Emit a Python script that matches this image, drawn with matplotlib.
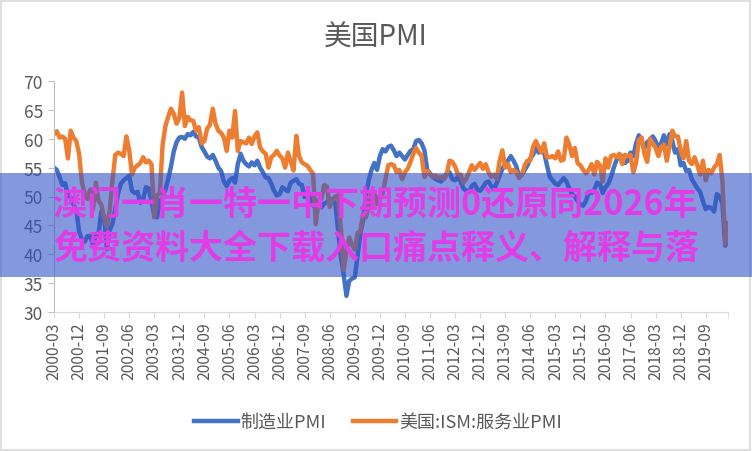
import numpy as np
import pandas as pd
import matplotlib
matplotlib.use("Agg")
import matplotlib.pyplot as plt
from matplotlib.patches import Rectangle

plt.rcParams["font.family"] = ["Noto Sans CJK SC", "DejaVu Sans"]

# monthly data, 2000-03 .. 2020-05
months = pd.period_range("2000-03", "2020-05", freq="M").strftime("%Y-%m").tolist()

mfg_pmi = [
    55.0, 54.6, 53.4, 52.0, 52.3, 50.2, 49.8, 48.6, 47.7, 44.0,              # 2000
    42.6, 42.2, 43.1, 43.2, 41.6, 43.2, 43.6, 47.4, 46.5, 40.9, 44.2, 45.3,  # 2001
    47.8, 50.5, 52.2, 52.8, 53.2, 53.6, 51.0, 50.6, 50.8, 48.9, 49.5, 51.6,  # 2002
    51.4, 49.2, 46.8, 46.4, 49.2, 49.8, 51.2, 53.0, 55.2, 57.8, 59.4, 60.2,  # 2003
    60.3, 60.0, 60.8, 60.6, 61.2, 60.4, 60.2, 58.6, 57.8, 56.9, 56.6, 57.2,  # 2004
    56.2, 55.0, 54.4, 52.6, 51.8, 52.8, 53.2, 52.4, 55.6, 57.4, 56.2, 55.6,  # 2005
    55.2, 55.9, 55.4, 56.2, 55.0, 54.2, 53.3, 53.2, 52.2, 51.0, 50.2, 50.4,  # 2006
    51.6, 51.2, 50.9, 52.4, 52.7, 53.0, 52.2, 52.0, 49.9, 50.6, 49.6, 48.4,  # 2007
    49.3, 48.6, 48.1, 48.8, 49.0, 49.6, 49.2, 48.9, 44.2, 39.5, 36.5, 32.8,  # 2008
    35.4, 35.8, 36.0, 39.8, 43.5, 46.0, 50.2, 52.8, 54.6, 55.8, 54.6, 57.0,  # 2009
    58.2, 57.8, 58.6, 58.8, 58.0, 57.0, 57.6, 57.0, 56.4, 57.2, 57.9, 58.2,  # 2010
    59.6, 59.8, 59.2, 58.0, 54.6, 54.0, 53.4, 53.0, 52.8, 52.6, 53.2, 54.0,  # 2011
    54.2, 53.0, 52.8, 53.4, 52.6, 51.4, 51.0, 50.8, 51.8, 52.2, 51.2, 51.0,  # 2012
    51.6, 52.4, 52.6, 51.8, 51.2, 52.4, 53.6, 54.8, 55.6, 56.2, 57.0, 56.2,  # 2013
    55.2, 53.4, 53.8, 54.6, 55.4, 56.6, 57.2, 58.6, 57.6, 57.9, 57.6, 55.4,  # 2014
    53.4, 52.8, 52.2, 52.0, 52.6, 53.2, 52.6, 51.4, 50.4, 50.0, 49.2, 48.6,  # 2015
    48.4, 49.2, 50.8, 50.6, 51.2, 52.4, 52.2, 50.6, 51.6, 52.2, 53.4, 55.0,  # 2016
    56.4, 57.2, 57.0, 55.8, 56.2, 57.6, 57.0, 59.2, 60.6, 59.4, 58.4, 59.4,  # 2017
    59.8, 60.4, 59.6, 58.4, 59.2, 60.6, 59.0, 60.8, 59.6, 57.6, 58.2, 55.4,  # 2018
    55.8, 54.4, 54.6, 53.0, 52.2, 51.4, 50.8, 49.2, 47.8, 48.2, 48.0, 47.4,  # 2019
    50.4, 50.0, 48.8, 41.5, 43.2,                                            # 2020
]

svc_pmi = [
    60.8, 61.3, 60.2, 60.4, 60.0, 56.6, 61.4, 60.2, 59.6, 57.4,              # 2000
    52.6, 50.4, 49.6, 51.2, 47.8, 52.4, 49.2, 48.6, 46.2, 44.8, 47.6, 52.8,  # 2001
    57.2, 57.6, 57.4, 57.0, 60.4, 58.0, 53.8, 55.0, 55.4, 55.8, 56.8, 55.9,  # 2002
    56.2, 55.6, 46.4, 50.2, 50.6, 59.0, 62.2, 63.8, 65.2, 64.3, 62.6, 63.6,  # 2003
    68.0, 62.2, 63.8, 63.2, 63.1, 61.4, 62.0, 59.2, 59.6, 61.8, 62.4, 65.2,  # 2004
    62.6, 61.4, 61.0, 60.2, 57.9, 61.4, 60.2, 64.8, 57.9, 59.6, 59.4, 59.2,  # 2005
    60.2, 59.1, 60.4, 61.1, 58.5, 57.8, 57.4, 55.0, 56.8, 57.2, 57.9, 57.1,  # 2006
    56.6, 55.0, 57.6, 56.0, 54.5, 60.5, 57.0, 55.9, 55.6, 55.3, 54.6, 54.0,  # 2007
    45.2, 49.3, 49.6, 52.0, 51.7, 48.2, 49.5, 50.0, 50.2, 44.4, 37.3, 40.6,  # 2008
    42.9, 41.6, 40.8, 43.7, 44.0, 47.0, 46.4, 48.4, 50.9, 50.6, 48.7, 50.1,  # 2009
    50.5, 53.0, 55.4, 55.6, 55.4, 54.2, 54.6, 53.0, 54.2, 54.8, 56.0, 57.4,  # 2010
    58.4, 57.6, 57.0, 53.4, 54.4, 53.8, 53.4, 53.6, 53.2, 53.4, 53.0, 53.8,  # 2011
    56.2, 56.0, 55.2, 53.8, 53.8, 52.4, 53.0, 54.2, 55.4, 54.6, 55.2, 55.8,  # 2012
    54.8, 55.6, 54.2, 53.4, 53.8, 53.0, 56.2, 58.0, 55.0, 55.6, 54.2, 54.6,  # 2013
    54.2, 53.2, 53.8, 55.4, 56.2, 56.2, 58.6, 59.6, 58.6, 57.6, 59.2, 56.8,  # 2014
    56.8, 57.0, 56.6, 57.8, 56.2, 56.4, 60.2, 59.0, 57.0, 58.4, 55.8, 55.4,  # 2015
    54.6, 54.0, 54.6, 55.6, 53.8, 56.0, 55.4, 52.6, 56.6, 55.0, 57.0, 57.2,  # 2016
    56.8, 57.4, 55.6, 57.2, 57.0, 57.2, 54.2, 55.8, 59.8, 60.2, 57.4, 56.0,  # 2017
    60.0, 59.2, 58.4, 57.0, 58.6, 59.0, 56.2, 58.6, 61.4, 60.4, 60.4, 58.0,  # 2018
    56.6, 59.6, 56.2, 55.6, 56.8, 55.4, 53.8, 56.2, 52.8, 54.6, 54.0, 55.0,  # 2019
    55.6, 57.2, 52.6, 41.8, 45.4,                                            # 2020
]

series_names = ["制造业PMI", "美国:ISM:服务业PMI"]
title = "美国PMI"
banner_lines = ["澳门一肖一特一中下期预测0还原同2026年", "免费资料大全下载入口痛点释义、解释与落"]

W, H = 752, 452
fig = plt.figure(figsize=(W / 100, H / 100), dpi=100)
ax = fig.add_axes([54 / W, 1 - 313 / H, (728 - 54) / W, (313 - 82) / H])

x = np.arange(len(months))
ax.plot(x, mfg_pmi, color="#4472C4", lw=3.2, label=series_names[0], solid_joinstyle="round")
ax.plot(x, svc_pmi, color="#ED7D31", lw=3.2, label=series_names[1], solid_joinstyle="round")

ax.set_xlim(0, len(months) - 1)
ax.set_ylim(30, 70)
ax.set_yticks(np.arange(30, 71, 5))
tick_pos = np.arange(0, len(months), 9)
ax.set_xticks(tick_pos)
ax.set_xticklabels([months[i] for i in tick_pos], rotation=90)
ax.set_xticks([len(months) - 1], minor=True)

for s in ["top", "right"]:
    ax.spines[s].set_visible(False)
ax.spines["left"].set_color("#bfbfbf")
ax.spines["bottom"].set_color("#d9d9d9")
ax.tick_params(axis="y", labelsize=12.5, colors="#595959", length=4, color="#bfbfbf", pad=4)
ax.tick_params(axis="x", which="both", labelsize=11.3, colors="#595959", length=4, color="#d9d9d9", pad=3)

fig.text(376 / W, 1 - 38 / H, title, ha="center", va="center", fontsize=20, color="#595959")

fig.legend(loc="center", bbox_to_anchor=(378 / W, 1 - 423 / H), ncol=2, frameon=False,
           fontsize=13, handlelength=2.4, handletextpad=0.15, columnspacing=1.5,
           labelcolor="#595959")

# chart border
fig.add_artist(Rectangle((1 / W, 1 / H), (W - 3) / W, (H - 3) / H, transform=fig.transFigure,
                         fill=False, edgecolor="#d9d9d9", lw=1.2, zorder=5))

# overlay banner
fig.add_artist(Rectangle((0, 1 - 278 / H), 1, (278 - 174) / H, transform=fig.transFigure,
                         facecolor=(0.2, 0.33, 0.78), alpha=0.6, edgecolor="none", zorder=10))
for i, line in enumerate(banner_lines):
    fig.text(53 / W, 1 - (205 + 43 * i) / H, line, ha="left", va="center", fontsize=24.5,
             fontweight="bold", color="#e13ce6", zorder=11)

fig.savefig("out.png", dpi=100)
